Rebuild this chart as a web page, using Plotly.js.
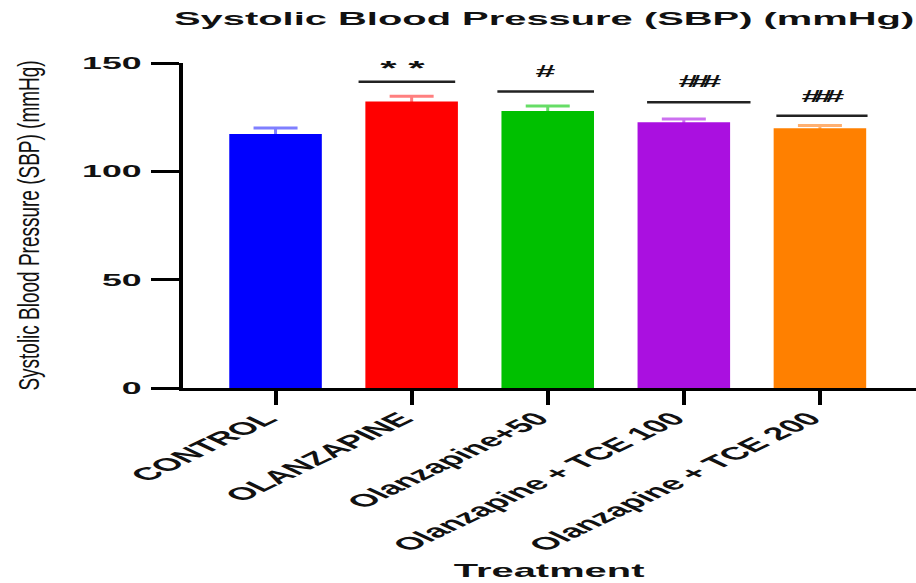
<!DOCTYPE html>
<html>
<head>
<meta charset="utf-8">
<script src="https://cdn.plot.ly/plotly-3.0.1.min.js"></script>
<style>
html,body{margin:0;padding:0;background:#fff;}
#chart{width:916px;height:583px;}
</style>
</head>
<body>
<div id="chart"></div>
<script>
const categories = ["CONTROL", "OLANZAPINE", "Olanzapine+50", "Olanzapine + TCE 100", "Olanzapine + TCE 200"];
const sbpMean = [117.2, 132.2, 127.8, 122.6, 119.9];
const sbpSem = [2.8, 2.5, 2.3, 1.6, 1.2];
const barColors = ["#0000ff", "#ff0000", "#00c000", "#aa10e0", "#ff8000"];
const errColors = ["#7f7fff", "#ff7f7f", "#66dd66", "#cc70f0", "#ffb070"];
const sigLabels = ["", "* *", "#", "###", "###"];
const sigLineY = [null, 141.3, 136.9, 131.9, 125.6];
const sigTextY = [null, 147.5, 146.0, 141.6, 134.4];
const sigLineX0 = [null, -0.39, -0.37, -0.27, -0.32];
const sigLineX1 = [null, 0.32, 0.34, 0.49, 0.35];

const xIdx = categories.map((c, i) => i);
const STRETCH = 2.1;

// transparent carriers for the error bars, drawn first so the real bars hide the lower half
const errTraces = categories.map((c, i) => ({
  type: "bar",
  x: [xIdx[i]],
  y: [sbpMean[i]],
  width: 0.68,
  marker: {color: "rgba(0,0,0,0)", line: {width: 0}},
  error_y: {type: "data", array: [sbpSem[i]], color: errColors[i], thickness: 3, width: 22, visible: true},
  showlegend: false,
  hoverinfo: "skip"
}));

const barTrace = {
  type: "bar",
  x: xIdx,
  y: sbpMean,
  width: 0.68,
  marker: {color: barColors, line: {width: 0}},
  showlegend: false,
  hoverinfo: "skip"
};

const shapes = [];
const annotations = [];
for (let i = 0; i < categories.length; i++) {
  if (!sigLabels[i]) continue;
  shapes.push({type: "line", xref: "x", yref: "y", x0: i + sigLineX0[i], x1: i + sigLineX1[i], y0: sigLineY[i], y1: sigLineY[i], line: {color: "#222", width: 2.5}});
  annotations.push({xref: "x", yref: "y", x: i + (sigLineX0[i] + sigLineX1[i]) / 2 - (i === 1 ? 0.03 : 0), y: sigTextY[i], text: "<b>" + sigLabels[i] + "</b>", showarrow: false, font: {family: "Liberation Sans, Arial", size: i === 1 ? 20 : 17, color: "#111"}});
}

const layout = {
  width: 916, height: 583,
  margin: {l: 183, r: 0, t: 63, b: 195},
  paper_bgcolor: "#fff", plot_bgcolor: "#fff",
  barmode: "overlay",
  title: {text: "<b>Systolic Blood Pressure (SBP) (mmHg)</b>", x: 0.594, xanchor: "center", y: 0.968, yanchor: "middle", font: {family: "Liberation Sans, Arial", size: 19, color: "#111"}},
  xaxis: {
    type: "linear", range: [-0.68, 4.706],
    tickmode: "array", tickvals: xIdx, ticktext: categories,
    tickangle: -45, ticks: "outside", ticklen: 14, tickwidth: 4, tickcolor: "#000",
    ticklabelstandoff: -4,
    showline: true, linecolor: "#000", linewidth: 3,
    showgrid: false, zeroline: false,
    tickfont: {family: "Liberation Sans, Arial", size: 18, color: "#111", weight: "bold"},
    title: {text: "<b>Treatment</b>", font: {family: "Liberation Sans, Arial", size: 19, color: "#111"}, standoff: 10}
  },
  yaxis: {
    range: [0, 150], tickvals: [0, 50, 100, 150],
    ticks: "outside", ticklen: 28, tickwidth: 3, tickcolor: "#000",
    ticklabelstandoff: 6,
    showline: true, linecolor: "#000", linewidth: 4,
    showgrid: false, zeroline: false,
    tickfont: {family: "Liberation Sans, Arial", size: 17, color: "#111", weight: "bold"},
    title: {text: "Systolic Blood Pressure (SBP) (mmHg)", font: {family: "Liberation Sans, Arial", size: 19, color: "#111"}, standoff: 73}
  },
  shapes: shapes,
  annotations: annotations
};

// widen a text element horizontally, keeping its right edge or centre in place
function widen(el, s, mode) {
  const r = el.getBoundingClientRect();
  if (!r.width) return;
  const svg = el.ownerSVGElement;
  const pt = svg.createSVGPoint();
  pt.x = mode === "right" ? r.right : (r.left + r.right) / 2;
  pt.y = r.top;
  const p = pt.matrixTransform(el.parentNode.getScreenCTM().inverse());
  const old = el.getAttribute("transform") || "";
  el.setAttribute("transform", "translate(" + p.x + ",0) scale(" + s + ",1) translate(" + (-p.x) + ",0) " + old);
}

Plotly.newPlot("chart", errTraces.concat([barTrace]), layout, {displayModeBar: false, staticPlot: true}).then(function (gd) {
  gd.querySelectorAll(".annotation-text").forEach(function (t) {
    if (t.textContent.trim() === "###") t.style.letterSpacing = "-4px";
  });
  gd.querySelectorAll(".gtitle").forEach(function (t) { widen(t, STRETCH, "center"); });
  gd.querySelectorAll(".ytick text").forEach(function (t) { widen(t, STRETCH, "right"); });
  gd.querySelectorAll(".xtick text").forEach(function (t) { widen(t, STRETCH, "right"); });
  gd.querySelectorAll(".g-xtitle text").forEach(function (t) { widen(t, STRETCH, "center"); });
  gd.querySelectorAll(".g-ytitle text").forEach(function (t) { widen(t, 1.6, "center"); });
  gd.querySelectorAll(".annotation-text").forEach(function (t) { widen(t, STRETCH, "center"); });
});
</script>
</body>
</html>
